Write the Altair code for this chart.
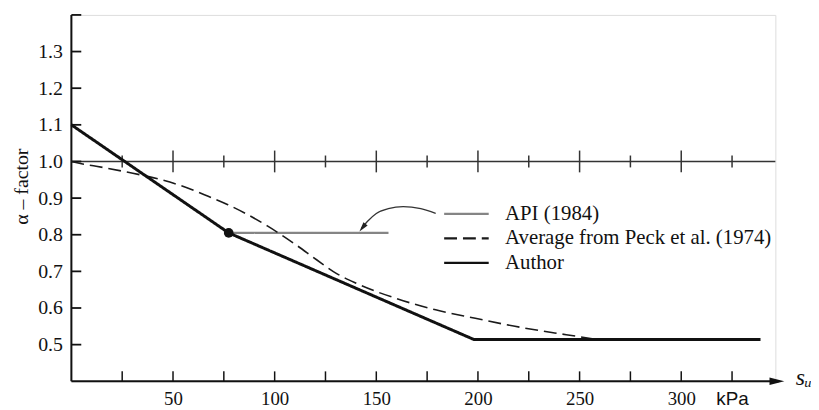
import altair as alt
import pandas as pd

# ---------------- values ----------------
series_names = ["API (1984)", "Average from Peck et al. (1974)", "Author"]

author_su = [0, 77.4, 198, 339]
author_alpha = [1.10, 0.805, 0.514, 0.514]

api_su = [77.4, 156]
api_alpha = [0.805, 0.805]

peck_su = [0, 3.9, 12.2, 27.3, 44.3, 57.5, 67.3, 77.0, 86.7, 96.4, 102.9, 111.1,
           120.8, 130.5, 140.3, 159.8, 179.2, 198.7, 218.2, 237.7, 250.7, 258]
peck_alpha = [1.0, 0.995, 0.987, 0.971, 0.950, 0.927, 0.905, 0.882, 0.855, 0.824, 0.801, 0.770,
              0.731, 0.694, 0.667, 0.626, 0.595, 0.572, 0.550, 0.532, 0.521, 0.514]

marker_su = [77.4]
marker_alpha = [0.805]

# curved pointer from the legend to the API line
arc_su = [179.2, 171.9, 163.2, 155.9, 150.0, 145.6, 142.7]
arc_alpha = [0.858, 0.871, 0.877, 0.871, 0.858, 0.836, 0.817]
arc_tip_su = [141.7]
arc_tip_alpha = [0.809]

# axes
x_min, x_max = 0, 346.3
y_min, y_max = 0.4, 1.4
x_tick_values = [25, 50, 75, 100, 125, 150, 175, 200, 225, 250, 275, 300, 325]
x_label_values = [50, 100, 150, 200, 250, 300, 325]
y_tick_values = [0.5, 0.6, 0.7, 0.8, 0.9, 1.0, 1.1, 1.2, 1.3, 1.4]
y_label_values = [0.5, 0.6, 0.7, 0.8, 0.9, 1.0, 1.1, 1.2, 1.3]
x_axis_end = 348
x_arrow_tip = 350.7

# reference line alpha = 1.0 with its own tick marks
ref_level = 1.0
ref_major = [50, 100, 150, 200, 250, 300]
ref_minor = [25, 75, 125, 175, 225, 275, 325]

# ---------------- chart ----------------
SERIF = "Liberation Serif"
INK = "#111111"

xs = alt.Scale(domain=[x_min, x_max], nice=False, zero=False)
ys = alt.Scale(domain=[y_min, y_max], nice=False, zero=False)

XAX = alt.Axis(
    values=x_label_values,
    labelExpr="datum.value == 325 ? 'kPa' : datum.label",
    labelFont={"condition": {"test": "datum.value == 325", "value": "Liberation Sans"},
               "value": SERIF},
    labelFontSize=19, labelColor=INK, labelPadding=8,
    labelFlush=False, labelOverlap=False,
    ticks=False, tickSize=0, domain=False, grid=False,
    title="sᵤ", titleFont=SERIF, titleFontStyle="italic", titleFontWeight="normal",
    titleFontSize=24, titleColor=INK, titleX=731, titleY=-4,
    titleAlign="left", titleBaseline="middle",
)
YAX = alt.Axis(
    values=y_label_values, format=".1f",
    labelFont=SERIF, labelFontSize=20, labelColor=INK, labelPadding=9,
    ticks=False, tickSize=0, domain=False, grid=False,
    title="α – factor", titleFont=SERIF, titleFontWeight="normal", titleFontSize=20,
    titleColor=INK, titleAngle=270, titleX=-50, titleY=173,
    titleAlign="center", titleBaseline="middle",
)


def X(f="x"):
    return alt.X(f, type="quantitative", scale=xs, axis=XAX)


def Y(f="y"):
    return alt.Y(f, type="quantitative", scale=ys, axis=YAX)


LEG = alt.Legend(
    title=None, orient="none", legendX=375, legendY=190,
    symbolType="stroke", symbolSize=2025, symbolStrokeWidth=2.3,
    labelFont=SERIF, labelFontSize=21, labelColor=INK, labelOffset=15, labelLimit=500,
    clipHeight=22, rowPadding=2.7, padding=0,
)

color_enc = alt.Color("series:N", scale=alt.Scale(domain=series_names,
                                                   range=["#858585", "#1a1a1a", INK]),
                      legend=LEG)
dash_enc = alt.StrokeDash("series:N", scale=alt.Scale(domain=series_names,
                                                       range=[[1, 0], [13, 6], [1, 0]]),
                          legend=LEG)

api_df = pd.DataFrame({"x": api_su, "y": api_alpha, "series": series_names[0]})
peck_df = pd.DataFrame({"x": peck_su, "y": peck_alpha, "series": series_names[1]})
author_df = pd.DataFrame({"x": author_su, "y": author_alpha, "series": series_names[2]})

api_layer = alt.Chart(api_df).mark_line(strokeWidth=2.2).encode(
    x=X(), y=Y(), color=color_enc, strokeDash=dash_enc)
peck_layer = alt.Chart(peck_df).mark_line(interpolate="monotone", strokeWidth=1.6).encode(
    x=X(), y=Y(), color=color_enc, strokeDash=dash_enc)
author_layer = alt.Chart(author_df).mark_line(strokeWidth=3).encode(
    x=X(), y=Y(), color=color_enc, strokeDash=dash_enc)

marker = alt.Chart(pd.DataFrame({"x": marker_su, "y": marker_alpha})).mark_circle(
    size=95, color=INK, opacity=1).encode(x=X(), y=Y())

arc = alt.Chart(pd.DataFrame({"x": arc_su, "y": arc_alpha})).mark_line(
    interpolate="monotone", color="#333333", strokeWidth=1.3).encode(x=X(), y=Y())
arc_head = alt.Chart(pd.DataFrame({"x": arc_tip_su, "y": arc_tip_alpha})).mark_point(
    shape="M0,0L0.45,1.6L-0.45,1.6Z", filled=True, color="#222222", opacity=1,
    size=150, angle=219).encode(x=X(), y=Y())

# axis lines
y_axis_line = alt.Chart(pd.DataFrame({"x": [x_min], "y": [y_min], "y2": [y_max]})).mark_rule(
    color=INK, strokeWidth=2).encode(x=X(), y=Y(), y2=alt.Y2("y2"))
x_axis_line = alt.Chart(pd.DataFrame({"x": [x_min], "x2": [x_axis_end], "y": [y_min]})).mark_rule(
    color=INK, strokeWidth=2).encode(x=X(), x2=alt.X2("x2"), y=Y())
x_arrow = alt.Chart(pd.DataFrame({"x": [x_arrow_tip], "y": [y_min]})).mark_point(
    shape="M0,0L0.4,1.6L-0.4,1.6Z", filled=True, color=INK, opacity=1,
    size=350, angle=90).encode(x=X(), y=Y())

y_ticks = alt.Chart(pd.DataFrame({"x": [x_min] * len(y_tick_values), "y": y_tick_values})).mark_rule(
    color=INK, strokeWidth=1.8, x2Offset=10).encode(x=X(), x2=alt.X2("x"), y=Y())
x_ticks = alt.Chart(pd.DataFrame({"x": x_tick_values, "y": [y_min] * len(x_tick_values)})).mark_rule(
    color=INK, strokeWidth=1.5, y2Offset=-10).encode(x=X(), y=Y(), y2=alt.Y2("y"))

ref_line = alt.Chart(pd.DataFrame({"x": [x_min], "x2": [x_max], "y": [ref_level]})).mark_rule(
    color="#333333", strokeWidth=1.6).encode(x=X(), x2=alt.X2("x2"), y=Y())
ref_major_ticks = alt.Chart(pd.DataFrame({"x": ref_major, "y": [ref_level] * len(ref_major)})).mark_rule(
    color="#333333", strokeWidth=1.5, yOffset=-11, y2Offset=11).encode(x=X(), y=Y(), y2=alt.Y2("y"))
ref_minor_ticks = alt.Chart(pd.DataFrame({"x": ref_minor, "y": [ref_level] * len(ref_minor)})).mark_rule(
    color="#333333", strokeWidth=1.5, yOffset=-6, y2Offset=6).encode(x=X(), y=Y(), y2=alt.Y2("y"))

chart = alt.layer(
    ref_line, ref_major_ticks, ref_minor_ticks,
    y_axis_line, x_axis_line, x_arrow, y_ticks, x_ticks,
    api_layer, peck_layer, author_layer, marker, arc, arc_head,
).properties(
    width=711, height=370,
    autosize=alt.AutoSizeParams(type="none"),
    padding={"left": 64, "top": 5, "right": 36, "bottom": 25},
    background="white",
).configure_view(stroke=None).configure(font=SERIF)

chart.save("out.html", embed_options={"renderer": "svg", "actions": False})
